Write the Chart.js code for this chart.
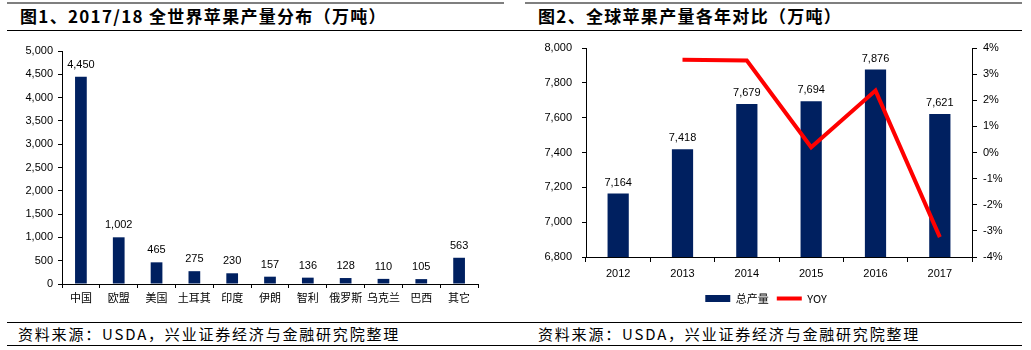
<!DOCTYPE html>
<html><head><meta charset="utf-8">
<script src="https://cdn.jsdelivr.net/npm/chart.js@4/dist/chart.umd.min.js"></script>
<style>
html,body{margin:0;padding:0;background:#fff;width:1031px;height:350px;overflow:hidden;position:relative;font-family:"Noto Sans CJK SC",sans-serif;}
.abs{position:absolute;}
.gray{height:2px;top:2px;background:#7f7f7f;}
.hline{height:1px;background:#000;left:7px;width:1015px;}
.title{top:5px;font-size:17px;font-weight:700;color:#000;white-space:nowrap;letter-spacing:1.3px;line-height:22px;}
.src{top:324px;font-size:15px;color:#000;white-space:nowrap;letter-spacing:1.8px;line-height:20px;}
canvas{position:absolute;top:0;}
</style></head><body>
<div class="abs gray" style="left:7px;width:497px"></div>
<div class="abs gray" style="left:525px;width:497px"></div>
<div class="abs title" style="left:20px">图1、2017/18 全世界苹果产量分布（万吨）</div>
<div class="abs title" style="left:538px">图2、全球苹果产量各年对比（万吨）</div>
<div class="abs hline" style="top:30px"></div>
<div class="abs hline" style="top:322px"></div>
<div class="abs hline" style="top:345px"></div>
<div class="abs src" style="left:18px">资料来源：USDA，兴业证券经济与金融研究院整理</div>
<div class="abs src" style="left:538px">资料来源：USDA，兴业证券经济与金融研究院整理</div>
<canvas id="c1" width="520" height="320" style="left:0"></canvas>
<canvas id="c2" width="511" height="320" style="left:520px"></canvas>
<script>
// Chart 1 data
const countries = ['中国','欧盟','美国','土耳其','印度','伊朗','智利','俄罗斯','乌克兰','巴西','其它'];
const output2017 = [4450,1002,465,275,230,157,136,128,110,105,563];
// Chart 2 data
const years = ['2012','2013','2014','2015','2016','2017'];
const totalOutput = [7164,7418,7679,7694,7876,7621];
const yoyPct = [null,3.55,3.52,0.20,2.37,-3.24];

const NAVY = '#002060';
const TICKFONT = {family:'"Liberation Sans", Arial, sans-serif', size:11};
const CJKFONT = {family:'"Noto Sans CJK SC", sans-serif', size:11};
Chart.defaults.color = '#000';

const barLabels = {
  id:'barLabels',
  afterDatasetsDraw(chart, args, opts){
    const ctx = chart.ctx;
    chart.data.datasets.forEach((ds,i)=>{
      if (ds.type === 'line') return;
      const meta = chart.getDatasetMeta(i);
      meta.data.forEach((el,j)=>{
        const v = ds.data[j];
        if (v == null) return;
        ctx.save();
        ctx.font = '11px "Liberation Sans", Arial, sans-serif';
        ctx.fillStyle = '#000';
        ctx.textAlign = 'center';
        ctx.textBaseline = 'middle';
        ctx.fillText(v.toLocaleString('en-US'), el.x, el.y - opts.offset);
        ctx.restore();
      });
    });
  }
};

new Chart(document.getElementById('c1'), {
  type:'bar',
  data:{labels:countries, datasets:[{data:output2017, backgroundColor:NAVY, barPercentage:0.62, categoryPercentage:0.5}]},
  options:{
    responsive:false, animation:false,
    layout:{padding:{left:0,right:42,top:51,bottom:0}},
    plugins:{legend:{display:false}, tooltip:{enabled:false}, barLabels:{offset:12}},
    scales:{
      x:{
        afterFit(s){ s.height = 36; },
        grid:{drawOnChartArea:false, tickLength:4, color:'#000', offset:true},
        border:{color:'#000'},
        ticks:{font:CJKFONT, padding:3, maxRotation:0, autoSkip:false}
      },
      y:{
        min:0, max:5000,
        afterFit(s){ s.width = 62; },
        grid:{drawOnChartArea:false, tickLength:4, color:'#000'},
        border:{color:'#000'},
        ticks:{stepSize:500, font:TICKFONT, padding:5, callback:v=>v.toLocaleString('en-US')}
      }
    }
  },
  plugins:[barLabels]
});

new Chart(document.getElementById('c2'), {
  data:{labels:years, datasets:[
    {type:'bar', label:'总产量', data:totalOutput, backgroundColor:NAVY, yAxisID:'y', order:2, barPercentage:0.66, categoryPercentage:0.5},
    {type:'line', label:'YOY', data:yoyPct, borderColor:'#ff0000', backgroundColor:'#ff0000', borderWidth:4, pointRadius:0, tension:0, yAxisID:'y1', order:1, spanGaps:false}
  ]},
  options:{
    responsive:false, animation:false,
    layout:{padding:{left:0,right:19,top:48,bottom:6}},
    plugins:{
      tooltip:{enabled:false},
      barLabels:{offset:11},
      legend:{
        position:'bottom',
        labels:{
          font:CJKFONT, color:'#000', usePointStyle:true, pointStyleWidth:25, boxHeight:7, padding:8,
          sort:(a,b)=>a.datasetIndex-b.datasetIndex,
          generateLabels(chart){
            const items = Chart.defaults.plugins.legend.labels.generateLabels(chart);
            items.forEach(it=>{
              if (it.datasetIndex===0){ it.pointStyle='rect'; it.fillStyle=NAVY; it.strokeStyle=NAVY; it.lineWidth=0; }
              else { it.pointStyle='line'; it.strokeStyle='#ff0000'; it.fillStyle='#ff0000'; it.lineWidth=4; }
            });
            return items;
          }
        }
      }
    },
    scales:{
      x:{
        afterFit(s){ s.height = 28; },
        grid:{drawOnChartArea:false, tickLength:5, color:'#000', offset:true},
        border:{color:'#000'},
        ticks:{font:TICKFONT, padding:5, maxRotation:0}
      },
      y:{
        position:'left', min:6800, max:8000,
        afterFit(s){ s.width = 66; },
        grid:{drawOnChartArea:false, tickLength:4, color:'#000'},
        border:{color:'#000'},
        ticks:{stepSize:200, font:TICKFONT, padding:10, callback:v=>v.toLocaleString('en-US')}
      },
      y1:{
        position:'right', min:-4, max:4,
        afterFit(s){ s.width = 40; },
        grid:{drawOnChartArea:false, tickLength:5, color:'#000'},
        border:{color:'#000'},
        ticks:{stepSize:1, font:TICKFONT, padding:6, callback:v=>v+'%'}
      }
    }
  },
  plugins:[barLabels]
});
</script>
</body></html>
